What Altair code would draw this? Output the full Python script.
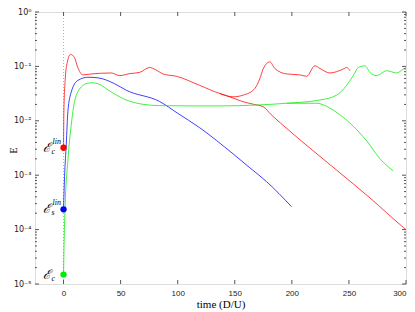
import altair as alt
import pandas as pd

# ---- series (time in D/U, energy E) ----
red_a_t = [0, 0.3, 1.5, 3.2, 6.1, 9.6, 12.5, 16.9, 24.3, 41.8, 49.1, 57.9, 66.7, 75.4, 80.7, 87.1,
           98.9, 119.3, 136.8, 148.5, 157.3, 167.5, 171.9, 174.8, 180.7, 185.1, 195.4, 207.0,
           212.9, 220.2, 224.6, 233.3, 245.0, 248.0, 250.9]
red_a_E = [3.1e-3, 0.0148, 0.059, 0.117, 0.166, 0.145, 0.0955, 0.0698, 0.0727, 0.0757, 0.0678,
           0.0736, 0.0777, 0.0955, 0.0869, 0.0727, 0.0658, 0.0448, 0.0318, 0.0276, 0.0296, 0.0391,
           0.0591, 0.0894, 0.121, 0.0917, 0.0727, 0.0698, 0.0658, 0.1025, 0.0917, 0.0757, 0.0894,
           0.0955, 0.0833]

red_b_t = [136.8, 148.5, 157.3, 167.5, 174.8, 182.0, 198.2, 239.2, 268.4, 297.6, 300.0]
red_b_E = [0.0318, 0.0262, 0.0224, 0.0199, 0.0182, 0.0129, 6.47e-3, 1.24e-3, 3.83e-4, 1.10e-4, 1.0e-4]

blue_t = [0, 0.9, 2.4, 3.8, 6.8, 12.5, 21.3, 30.1, 44.7, 55.0, 84.2, 100.0, 119.3, 148.5, 163.2,
          177.8, 199.7]
blue_E = [2.36e-4, 9.4e-4, 3.73e-3, 0.0148, 0.034, 0.0551, 0.0631, 0.0616, 0.0481, 0.0364, 0.0226,
          0.01375, 7.45e-3, 2.47e-3, 1.37e-3, 7.64e-4, 2.64e-4]

green_a_t = [0, 0.5, 1.5, 3.8, 6.8, 9.6, 15.5, 21.3, 24.8, 30.1, 42.1, 55.0, 69.6, 84.2, 113.2,
             136.8, 171.9, 195.4, 224.6, 239.2, 248.0, 253.8, 258.2, 264.0, 268.4, 274.3, 283.1,
             291.8, 297.6, 300.0]
green_a_E = [1.49e-5, 5.9e-5, 3.11e-4, 1.87e-3, 8.55e-3, 0.0224, 0.0418, 0.0492, 0.0501, 0.0481,
             0.0335, 0.0241, 0.0201, 0.0190, 0.01876, 0.01876, 0.0196, 0.0210, 0.0241, 0.0296,
             0.0448, 0.0678, 0.0955, 0.1025, 0.0777, 0.0678, 0.0833, 0.0757, 0.0894, 0.0955]

green_b_t = [195.4, 221.7, 233.3, 242.1, 265.5, 277.2, 288.9]
green_b_E = [0.0210, 0.0210, 0.0171, 0.0129, 4.28e-3, 2.0e-3, 1.2e-3]

series_names = ["red_a", "red_b", "blue", "green_a", "green_b"]
series_colors = ["#ff0000", "#ff0000", "#0000ff", "#00ee00", "#00ee00"]

# initial-value markers
mark_E = [3.2e-3, 2.36e-4, 1.49e-5]
mark_colors = ["#ff0000", "#0000ff", "#00ee00"]
mark_main = ["ℰ", "ℰ", "ℰ"]
mark_sub = ["c", "s", "c"]
mark_sup = ["lin", "lin", ""]

# axis ticks / labels
x_ticks = [0, 50, 100, 150, 200, 250, 300]
y_ticks = [1e-5, 1e-4, 1e-3, 1e-2, 1e-1, 1]
y_labels = ["10⁻⁵", "10⁻⁴", "10⁻³", "10⁻²", "10⁻¹", "10⁰"]
y_minor = [k * 10.0 ** e for e in range(-5, 0) for k in range(2, 10)]

W, H = 371, 272

rows = []
for name, ts, es in [("red_a", red_a_t, red_a_E), ("red_b", red_b_t, red_b_E),
                     ("blue", blue_t, blue_E), ("green_a", green_a_t, green_a_E),
                     ("green_b", green_b_t, green_b_E)]:
    for t, e in zip(ts, es):
        rows.append({"series": name, "t": t, "E": e})
lines_df = pd.DataFrame(rows)

xs = alt.Scale(domain=[-25, 300], nice=False, zero=False)
ys = alt.Scale(type="log", domain=[1e-5, 1], nice=False)

label_expr = "[" + ",".join("'" + s + "'" for s in y_labels) + "][round(log(datum.value)/LN10)+5]"

lines = alt.Chart(lines_df).mark_line(strokeWidth=1, opacity=0.75, interpolate="monotone", clip=True).encode(
    x=alt.X("t:Q", scale=xs, title="time (D/U)",
            axis=alt.Axis(values=x_ticks, ticks=False, domain=False, grid=False, labelFont="Liberation Sans",
                          labelFontSize=8, labelColor="#222", labelPadding=5, titleFont="Liberation Serif",
                          titleFontSize=11, titleFontWeight="normal", titleColor="#000", titlePadding=1)),
    y=alt.Y("E:Q", scale=ys, title="E",
            axis=alt.Axis(values=y_ticks, labelExpr=label_expr, ticks=False, domain=False, grid=False,
                          labelFont="DejaVu Sans", labelFontSize=8, labelColor="#222", labelPadding=4,
                          titleFont="Liberation Serif", titleFontSize=10, titleFontWeight="normal",
                          titleColor="#000", titleX=-22, titleY=H / 2 + 2, titleAlign="center",
                          titleBaseline="middle", titleAngle=270)),
    color=alt.Color("series:N", scale=alt.Scale(domain=series_names, range=series_colors), legend=None),
    detail="series:N",
)

zero_df = pd.DataFrame({"t": [0]})
zero_line = alt.Chart(zero_df).mark_rule(color="#999", strokeDash=[1, 2], strokeWidth=0.8).encode(
    x=alt.X("t:Q", scale=xs))

marks_df = pd.DataFrame({"t": [0, 0, 0], "E": mark_E, "c": mark_colors,
                         "main": mark_main, "sub": mark_sub, "sup": mark_sup})
points = alt.Chart(marks_df).mark_circle(size=40, opacity=1).encode(
    x=alt.X("t:Q", scale=xs), y=alt.Y("E:Q", scale=ys), color=alt.Color("c:N", scale=None))
main_txt = alt.Chart(marks_df).mark_text(font="DejaVu Serif", fontStyle="italic", fontSize=13,
                                         dx=-17, dy=0, align="center", baseline="middle").encode(
    x=alt.X("t:Q", scale=xs), y=alt.Y("E:Q", scale=ys), text="main:N")
sub_txt = alt.Chart(marks_df).mark_text(font="Liberation Serif", fontStyle="italic", fontSize=8,
                                        dx=-12, dy=4, align="left", baseline="middle").encode(
    x=alt.X("t:Q", scale=xs), y=alt.Y("E:Q", scale=ys), text="sub:N")
sup_txt = alt.Chart(marks_df).mark_text(font="Liberation Serif", fontStyle="italic", fontSize=8,
                                        dx=-11, dy=-6, align="left", baseline="middle").encode(
    x=alt.X("t:Q", scale=xs), y=alt.Y("E:Q", scale=ys), text="sup:N")

# inward tick marks (left/right/bottom/top)
ymaj = pd.DataFrame({"E": y_ticks})
ymin = pd.DataFrame({"E": y_minor})
xmaj = pd.DataFrame({"t": x_ticks})
tick_col = "#555"
yl = alt.Chart(ymaj).mark_rule(color=tick_col, strokeWidth=1).encode(
    y=alt.Y("E:Q", scale=ys), x=alt.value(0), x2=alt.value(4))
yr = alt.Chart(ymaj).mark_rule(color=tick_col, strokeWidth=1).encode(
    y=alt.Y("E:Q", scale=ys), x=alt.value(W - 4), x2=alt.value(W))
yml = alt.Chart(ymin).mark_rule(color=tick_col, strokeWidth=1).encode(
    y=alt.Y("E:Q", scale=ys), x=alt.value(0), x2=alt.value(2))
ymr = alt.Chart(ymin).mark_rule(color=tick_col, strokeWidth=1).encode(
    y=alt.Y("E:Q", scale=ys), x=alt.value(W - 2), x2=alt.value(W))
xb = alt.Chart(xmaj).mark_rule(color=tick_col, strokeWidth=1).encode(
    x=alt.X("t:Q", scale=xs), y=alt.value(H - 4), y2=alt.value(H))
xt = alt.Chart(xmaj).mark_rule(color=tick_col, strokeWidth=1).encode(
    x=alt.X("t:Q", scale=xs), y=alt.value(0), y2=alt.value(4))

chart = alt.layer(zero_line, lines, yl, yr, yml, ymr, xb, xt, points, main_txt, sub_txt, sup_txt).properties(
    width=W, height=H,
    autosize=alt.AutoSizeParams(type="none"),
    padding={"left": 27, "top": 4, "right": 1, "bottom": 26},
).configure_view(stroke="#666", strokeWidth=1).configure(background="white")

chart.save("out.html", embed_options={"renderer": "svg", "actions": False})
